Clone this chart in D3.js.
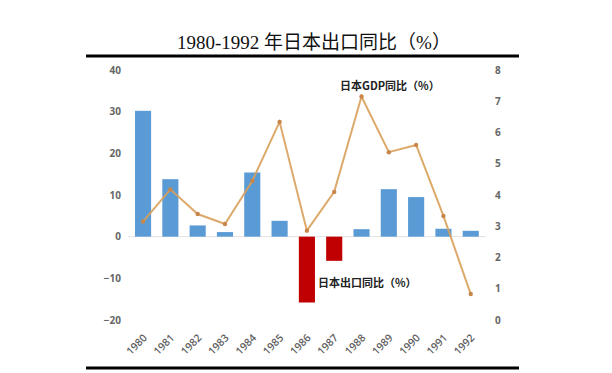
<!DOCTYPE html>
<html>
<head>
<meta charset="utf-8">
<script src="https://cdn.jsdelivr.net/npm/d3@7"></script>
<style>
  body { margin: 0; background: #fff; }
  svg { display: block; }
</style>
</head>
<body>
<div id="chart"></div>
<script>
// data
var years = ['1980','1981','1982','1983','1984','1985','1986','1987','1988','1989','1990','1991','1992'];
var exportYoY = [30.2, 13.8, 2.7, 1.1, 15.4, 3.8, -15.8, -5.8, 1.8, 11.4, 9.5, 1.9, 1.4];
var gdpYoY = [3.15, 4.18, 3.39, 3.07, 4.45, 6.34, 2.86, 4.1, 7.15, 5.37, 5.6, 3.33, 0.83];
var leftTicks = [-20, -10, 0, 10, 20, 30, 40];
var rightTicks = [0, 1, 2, 3, 4, 5, 6, 7, 8];

var W = 612, H = 373;

var svg = d3.select('#chart')
  .append('svg')
  .attr('width', W)
  .attr('height', H);

// scales
var x = d3.scaleBand()
  .domain(years)
  .range([129.4, 484.4])
  .paddingInner(0.41)
  .paddingOuter(0.205);

var yL = d3.scaleLinear().domain([-20, 40]).range([320, 70]);
var yR = d3.scaleLinear().domain([0, 8]).range([320, 70]);

// title and the two heavy rules
svg.append('text')
  .attr('x', 314)
  .attr('y', 49)
  .attr('text-anchor', 'middle')
  .attr('font-family', '"Liberation Serif", "Noto Sans CJK SC", serif')
  .attr('font-size', 19)
  .attr('fill', '#111')
  .text('1980-1992 年日本出口同比（%）');

[56, 368].forEach(function(yy) {
  svg.append('line')
    .attr('x1', 86).attr('x2', 519)
    .attr('y1', yy).attr('y2', yy)
    .attr('stroke', '#000')
    .attr('stroke-width', 3);
});

// zero line
svg.append('line')
  .attr('x1', 128).attr('x2', 486)
  .attr('y1', yL(0)).attr('y2', yL(0))
  .attr('stroke', '#e2e2e2')
  .attr('stroke-width', 1);

// left axis
var axL = d3.axisLeft(yL).tickValues(leftTicks).tickSize(0).tickPadding(0);
svg.append('g')
  .attr('transform', 'translate(121,0)')
  .call(axL)
  .call(function(g) { g.select('.domain').remove(); })
  .selectAll('text')
    .attr('font-family', '"Open Sans", sans-serif')
    .attr('font-size', 10)
    .attr('font-weight', 'bold')
    .attr('fill', '#666');

// right axis
var axR = d3.axisRight(yR).tickValues(rightTicks).tickSize(0).tickPadding(0);
svg.append('g')
  .attr('transform', 'translate(495,0)')
  .call(axR)
  .call(function(g) { g.select('.domain').remove(); })
  .selectAll('text')
    .attr('font-family', '"Open Sans", sans-serif')
    .attr('font-size', 10)
    .attr('font-weight', 'bold')
    .attr('fill', '#666');

// x labels, rotated
var axX = d3.axisBottom(x).tickSize(0).tickPadding(0);
svg.append('g')
  .attr('transform', 'translate(0,336)')
  .call(axX)
  .call(function(g) { g.select('.domain').remove(); })
  .selectAll('text')
    .attr('font-family', '"Open Sans", sans-serif')
    .attr('font-size', 10.5)
    .attr('font-weight', 600)
    .attr('fill', '#5f5f5f')
    .attr('text-anchor', 'end')
    .attr('dy', '0.35em')
    .attr('transform', 'translate(2,0) rotate(-45)');

// bars
svg.selectAll('rect.bar')
  .data(exportYoY)
  .enter()
  .append('rect')
    .attr('class', 'bar')
    .attr('x', function(d, i) { return x(years[i]); })
    .attr('y', function(d) { return yL(Math.max(0, d)); })
    .attr('width', x.bandwidth())
    .attr('height', function(d) { return Math.abs(yL(d) - yL(0)); })
    .attr('fill', function(d) { return d < 0 ? '#c00000' : '#5b9bd5'; });

// gdp line
var line = d3.line()
  .x(function(d, i) { return x(years[i]) + x.bandwidth() / 2; })
  .y(function(d) { return yR(d); });

svg.append('path')
  .datum(gdpYoY)
  .attr('d', line)
  .attr('fill', 'none')
  .attr('stroke', '#d9a05a')
  .attr('stroke-opacity', 0.9)
  .attr('stroke-width', 2);

svg.selectAll('circle.pt')
  .data(gdpYoY)
  .enter()
  .append('circle')
    .attr('class', 'pt')
    .attr('cx', function(d, i) { return x(years[i]) + x.bandwidth() / 2; })
    .attr('cy', function(d) { return yR(d); })
    .attr('r', 2.2)
    .attr('fill', '#c8874a');

// in-chart labels
svg.append('text')
  .attr('x', 340).attr('y', 90)
  .attr('font-family', '"Noto Sans CJK SC", sans-serif')
  .attr('font-size', 11)
  .attr('font-weight', 'bold')
  .attr('fill', '#222')
  .text('日本GDP同比（%）');

svg.append('text')
  .attr('x', 318).attr('y', 287)
  .attr('font-family', '"Noto Sans CJK SC", sans-serif')
  .attr('font-size', 11)
  .attr('font-weight', 'bold')
  .attr('fill', '#222')
  .text('日本出口同比（%）');
</script>
</body>
</html>
